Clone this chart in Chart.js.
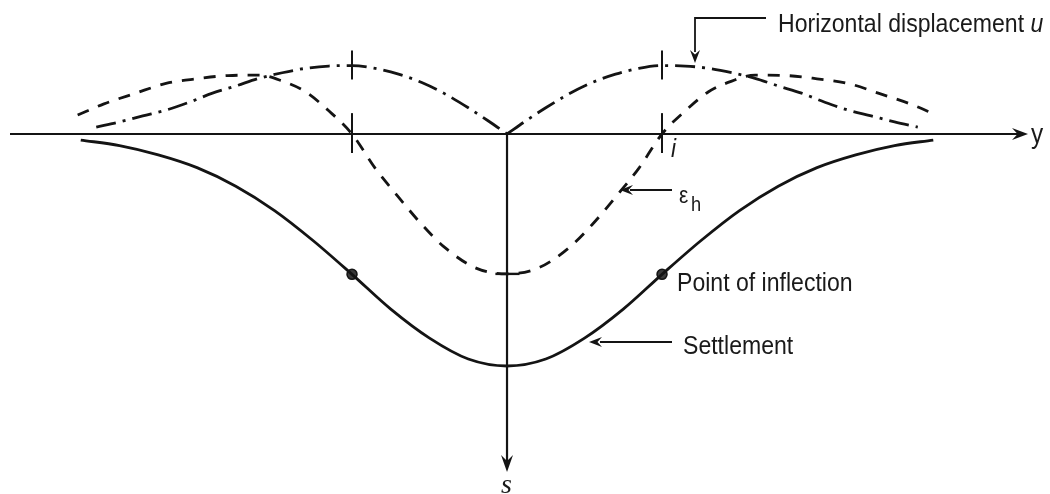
<!DOCTYPE html>
<html lang="en">
<head>
<meta charset="UTF-8">
<title>Settlement trough</title>
<script src="https://cdn.jsdelivr.net/npm/chart.js"></script>
<style>
  html, body { margin: 0; padding: 0; background: #fff; }
  canvas { display: block; }
</style>
</head>
<body>
<canvas id="trough" width="1050" height="494"></canvas>
<script>
// distance from the trough centre line, in multiples of i
const settleX = [-2.75, -2.5, -2.25, -2, -1.75, -1.5, -1.25, -1, -0.75, -0.5, -0.25, 0,
                 0.25, 0.5, 0.75, 1, 1.25, 1.5, 1.75, 2, 2.25, 2.5, 2.75];
// settlement s / s_max (downwards positive)
const settleVals = [0.026, 0.05, 0.09, 0.145, 0.225, 0.33, 0.46, 0.605, 0.755, 0.88, 0.97, 1.0,
                    0.97, 0.88, 0.755, 0.605, 0.46, 0.33, 0.225, 0.145, 0.09, 0.05, 0.026];

// horizontal strain eps_h (compression drawn downwards)
const strainX = [-2.77, -2.6, -2.4, -2.2, -2.0, -1.8, -1.6, -1.45, -1.3, -1.15, -1.0, -0.85, -0.7, -0.55, -0.4, -0.2, 0,
                 0.2, 0.4, 0.55, 0.7, 0.85, 1.0, 1.15, 1.3, 1.45, 1.6, 1.8, 2.0, 2.2, 2.4, 2.6, 2.77];
const strainVals = [-0.082, -0.13, -0.175, -0.218, -0.238, -0.252, -0.254, -0.228, -0.182, -0.1, 0, 0.148, 0.272, 0.39, 0.49, 0.578, 0.603,
                    0.578, 0.49, 0.39, 0.272, 0.148, 0, -0.1, -0.182, -0.228, -0.254, -0.252, -0.238, -0.218, -0.175, -0.13, -0.082];

// horizontal displacement u, left and right halves (magnitude drawn upwards)
const dispLeftX = [-2.65, -2.5, -2.35, -2.2, -2.05, -1.9, -1.75, -1.6, -1.45, -1.3, -1.15, -1.0,
                   -0.85, -0.7, -0.55, -0.4, -0.25, -0.12, 0];
const dispLeftVals = [-0.03, -0.052, -0.078, -0.103, -0.137, -0.176, -0.207, -0.24, -0.264, -0.283, -0.293, -0.295,
                      -0.283, -0.258, -0.222, -0.173, -0.113, -0.056, 0];
const dispRightX = [0, 0.12, 0.25, 0.4, 0.55, 0.7, 0.85, 1.0, 1.15, 1.3, 1.45, 1.6,
                    1.75, 1.9, 2.05, 2.2, 2.35, 2.5, 2.65];
const dispRightVals = [0, -0.056, -0.113, -0.173, -0.222, -0.258, -0.283, -0.295, -0.293, -0.283, -0.264, -0.24,
                       -0.207, -0.176, -0.137, -0.103, -0.078, -0.052, -0.03];

// points of inflection on the settlement curve
const inflectX = [-1, 1];
const inflectVals = [0.605, 0.605];

const INK = '#141414';
const pts = (xs, ys) => xs.map((v, k) => ({ x: v, y: ys[k] }));

function curve(data, dash) {
  return {
    data: data,
    borderColor: INK,
    borderWidth: 2.8,
    borderDash: dash,
    pointRadius: 0,
    fill: false,
    cubicInterpolationMode: 'monotone'
  };
}

// narrow sans text, like the drawing's lettering
function label(ctx, str, x, y, size, style, family, squeeze) {
  const k = squeeze || 0.87;
  ctx.save();
  ctx.translate(x, y);
  ctx.scale(k, 1);
  ctx.font = (style || '') + ' ' + size + 'px ' + (family || '"Liberation Sans", Arial, sans-serif');
  ctx.fillStyle = '#1a1a1a';
  ctx.textBaseline = 'alphabetic';
  ctx.fillText(str, 0, 0);
  const w = ctx.measureText(str).width * k;
  ctx.restore();
  return w;
}

function arrowHead(ctx, tx, ty, ang, len, half) {
  ctx.save();
  ctx.translate(tx, ty);
  ctx.rotate(ang);
  ctx.beginPath();
  ctx.moveTo(0, 0);
  ctx.lineTo(-len, -half);
  ctx.lineTo(-len * 0.65, 0);
  ctx.lineTo(-len, half);
  ctx.closePath();
  ctx.fillStyle = INK;
  ctx.fill();
  ctx.restore();
}

function seg(ctx, x1, y1, x2, y2, w) {
  ctx.beginPath();
  ctx.lineWidth = w;
  ctx.moveTo(x1, y1);
  ctx.lineTo(x2, y2);
  ctx.stroke();
}

const sketch = {
  id: 'sketch',
  beforeDatasetsDraw(chart) {
    const { ctx, chartArea, scales: { x, y } } = chart;
    const x0 = x.getPixelForValue(0);
    const y0 = y.getPixelForValue(0);
    ctx.save();
    ctx.strokeStyle = INK;
    // y axis (horizontal) and s axis (downwards)
    seg(ctx, chartArea.left + 10, y0, chartArea.right - 28, y0, 2.2);
    arrowHead(ctx, chartArea.right - 22, y0, 0, 16, 6);
    seg(ctx, x0, y0, x0, y.getPixelForValue(1.43), 2.2);
    arrowHead(ctx, x0, y.getPixelForValue(1.457), Math.PI / 2, 17, 6);
    ctx.restore();
  },
  afterDatasetsDraw(chart) {
    const { ctx, scales: { x, y } } = chart;
    ctx.save();
    ctx.strokeStyle = INK;
    // marks at +/- i on the axis and at the peaks of u
    inflectX.forEach(v => {
      const px = x.getPixelForValue(v);
      seg(ctx, px, y.getPixelForValue(-0.09), px, y.getPixelForValue(0.082), 2);
      seg(ctx, px, y.getPixelForValue(-0.36), px, y.getPixelForValue(-0.235), 2);
    });
    // mark at the maximum compressive strain
    const ys = y.getPixelForValue(strainVals[16]);
    seg(ctx, x.getPixelForValue(-0.075), ys, x.getPixelForValue(0.08), ys, 2.4);

    // leader for u
    ctx.lineWidth = 1.8;
    ctx.beginPath();
    ctx.moveTo(766, 18);
    ctx.lineTo(695, 18);
    ctx.lineTo(695, 52);
    ctx.stroke();
    arrowHead(ctx, 695, 63, Math.PI / 2, 13, 5);
    const w = label(ctx, 'Horizontal displacement ', 778, 32, 26.5);
    label(ctx, 'u', 778 + w, 32, 26.5, 'italic');

    // eps_h
    seg(ctx, 672, 190, 630, 190, 1.8);
    arrowHead(ctx, 620, 190, Math.PI, 13, 5);
    label(ctx, '\u03b5', 679, 203, 24);
    label(ctx, 'h', 691, 211, 21);

    label(ctx, 'Point of inflection', 677, 291, 26.5);

    seg(ctx, 672, 342, 600, 342, 1.8);
    arrowHead(ctx, 589, 342, Math.PI, 13, 5);
    label(ctx, 'Settlement', 683, 354, 26.5);

    label(ctx, 'i', 671, 157, 26, 'italic');
    label(ctx, 'y', 1031, 143, 28);
    label(ctx, 's', 501, 493, 28, 'italic', '"Liberation Serif", "Times New Roman", serif', 1);
    ctx.restore();
  }
};

new Chart(document.getElementById('trough'), {
  type: 'line',
  data: {
    datasets: [
      curve(pts(settleX, settleVals), []),
      curve(pts(strainX, strainVals), [12, 10]),
      curve(pts(dispLeftX, dispLeftVals), [20, 7, 3, 7]),
      curve(pts(dispRightX, dispRightVals), [20, 7, 3, 7]),
      {
        data: pts(inflectX, inflectVals),
        showLine: false,
        pointRadius: 5,
        pointBackgroundColor: '#3a3a3a',
        pointBorderColor: INK,
        pointBorderWidth: 1.5
      }
    ]
  },
  options: {
    responsive: false,
    animation: false,
    devicePixelRatio: 1,
    layout: { padding: 0, autoPadding: false },
    plugins: { legend: { display: false }, tooltip: { enabled: false } },
    scales: {
      x: { type: 'linear', display: false, min: -3.271, max: 3.503 },
      y: { type: 'linear', display: false, reverse: true, min: -0.5776, max: 1.5517 }
    }
  },
  plugins: [sketch]
});
</script>
</body>
</html>
